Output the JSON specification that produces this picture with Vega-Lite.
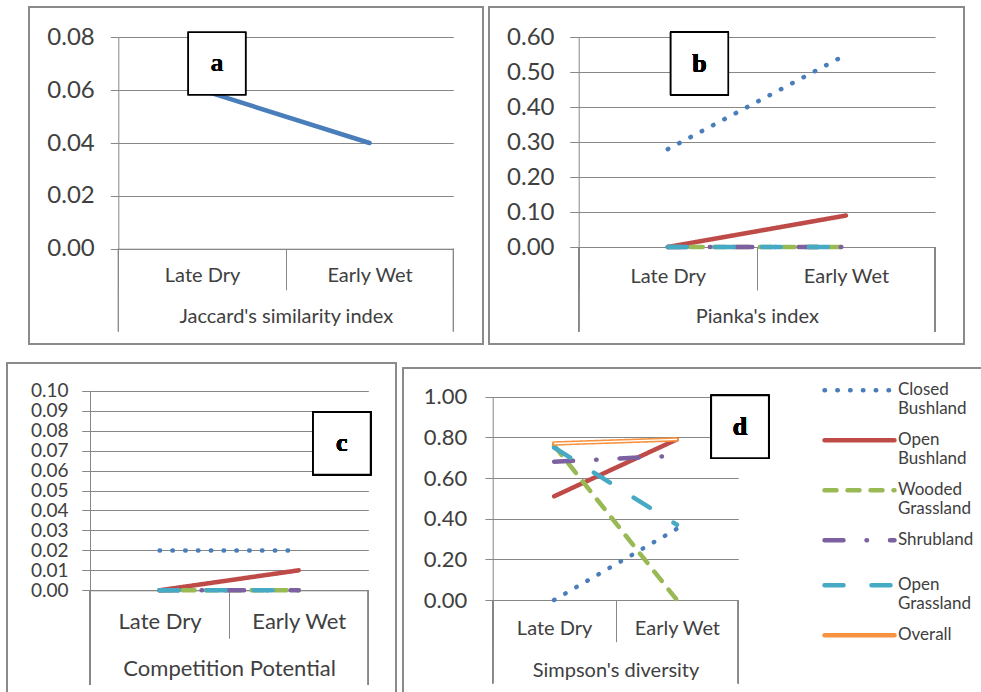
{
  "$schema": "https://vega.github.io/schema/vega-lite/v6.json",
  "background": "white",
  "padding": {"left": 6, "top": 6, "right": 0, "bottom": 0},
  "config": {
    "view": {"stroke": "#8a8a8a", "strokeWidth": 2},
    "font": "Lato",
    "axis": {"labelFont": "Lato", "titleFont": "Lato", "labelColor": "#404040", "titleColor": "#404040", "titleFontWeight": "normal", "domainColor": "#878787", "tickColor": "#878787", "gridColor": "#878787", "domainWidth": 1, "tickWidth": 1, "gridWidth": 1, "labelOverlap": false, "labelLimit": 400, "labelFlush": false}
  },
  "datasets": {
    "jaccard": [
      {"season": "Late Dry", "value": 0.06},
      {"season": "Early Wet", "value": 0.04}
    ],
    "pianka": [
      {"habitat": "Closed Bushland", "season": "Late Dry", "value": 0.28},
      {"habitat": "Closed Bushland", "season": "Early Wet", "value": 0.55},
      {"habitat": "Open Bushland", "season": "Late Dry", "value": 0.0},
      {"habitat": "Open Bushland", "season": "Early Wet", "value": 0.09},
      {"habitat": "Wooded Grassland", "season": "Late Dry", "value": 0.0},
      {"habitat": "Wooded Grassland", "season": "Early Wet", "value": 0.0},
      {"habitat": "Shrubland", "season": "Late Dry", "value": 0.0},
      {"habitat": "Shrubland", "season": "Early Wet", "value": 0.0},
      {"habitat": "Open Grassland", "season": "Late Dry", "value": 0.0},
      {"habitat": "Open Grassland", "season": "Early Wet", "value": 0.0}
    ],
    "competition": [
      {"habitat": "Closed Bushland", "season": "Late Dry", "value": 0.02},
      {"habitat": "Closed Bushland", "season": "Early Wet", "value": 0.02},
      {"habitat": "Open Bushland", "season": "Late Dry", "value": 0.0},
      {"habitat": "Open Bushland", "season": "Early Wet", "value": 0.01},
      {"habitat": "Wooded Grassland", "season": "Late Dry", "value": 0.0},
      {"habitat": "Wooded Grassland", "season": "Early Wet", "value": 0.0},
      {"habitat": "Shrubland", "season": "Late Dry", "value": 0.0},
      {"habitat": "Shrubland", "season": "Early Wet", "value": 0.0},
      {"habitat": "Open Grassland", "season": "Late Dry", "value": 0.0},
      {"habitat": "Open Grassland", "season": "Early Wet", "value": 0.0}
    ],
    "simpson": [
      {"habitat": "Closed Bushland", "season": "Late Dry", "value": 0.0},
      {"habitat": "Closed Bushland", "season": "Early Wet", "value": 0.35},
      {"habitat": "Open Bushland", "season": "Late Dry", "value": 0.51},
      {"habitat": "Open Bushland", "season": "Early Wet", "value": 0.79},
      {"habitat": "Wooded Grassland", "season": "Late Dry", "value": 0.76},
      {"habitat": "Wooded Grassland", "season": "Early Wet", "value": 0.0},
      {"habitat": "Shrubland", "season": "Late Dry", "value": 0.68},
      {"habitat": "Shrubland", "season": "Early Wet", "value": 0.71},
      {"habitat": "Open Grassland", "season": "Late Dry", "value": 0.75},
      {"habitat": "Open Grassland", "season": "Early Wet", "value": 0.37},
      {"habitat": "Overall", "season": "Late Dry", "value": 0.77},
      {"habitat": "Overall", "season": "Early Wet", "value": 0.79}
    ]
  },
  "resolve": {"scale": {"color": "independent", "strokeDash": "independent"}},
  "bounds": "full",
  "spacing": 17,
  "vconcat": [
    {
      "bounds": "flush",
      "spacing": 6,
      "resolve": {"scale": {"color": "independent", "strokeDash": "independent"}},
      "hconcat": [
        {"width": 16, "height": 1, "data": {"values": []}, "mark": "point", "view": {"stroke": null}},
        {
          "width": 454, "height": 337,
          "data": {"name": "jaccard"},
          "layer": [
            {
              "mark": {"type": "line", "color": "#4a7ebb", "strokeWidth": 4.5, "strokeCap": "round"},
              "encoding": {
                "x": {"field": "season", "type": "nominal", "bandPosition": 0.5,
                  "scale": {"type": "band", "domain": ["Late Dry", "Early Wet"], "range": [89.3, 424.3], "paddingInner": 0, "paddingOuter": 0},
                  "axis": {"orient": "bottom", "offset": -95.3, "title": "Jaccard's similarity index", "titleFontSize": 20, "titleY": 68, "titleBaseline": "middle", "labelFontSize": 20, "labelAngle": 0, "labelBaseline": "middle", "labelPadding": -14, "tickSize": 41, "tickBand": "extent", "grid": false}},
                "y": {"field": "value", "type": "quantitative",
                  "scale": {"domain": [0, 0.08], "range": [241.7, 30.3], "nice": false, "zero": false},
                  "axis": {"orient": "left", "offset": -89.3, "values": [0, 0.02, 0.04, 0.06, 0.08], "tickCount": 20, "format": ".2f", "grid": true, "tickSize": 8, "labelPadding": 16, "labelFontSize": 24, "title": null}}
              }
            },
            {
              "mark": {"type": "rule", "color": "#878787", "strokeWidth": 1},
              "encoding": {"x": {"datum": "Late Dry", "type": "nominal", "bandPosition": 0}, "y": {"datum": 0, "type": "quantitative"}, "y2": {"datum": -0.0314}}
            },
            {
              "mark": {"type": "rule", "color": "#878787", "strokeWidth": 1},
              "encoding": {"x": {"datum": "Early Wet", "type": "nominal", "bandPosition": 1}, "y": {"datum": 0, "type": "quantitative"}, "y2": {"datum": -0.0314}}
            },
            {
              "mark": {"type": "point", "shape": "M-0.92,-1H0.92V1H-0.92Z", "size": 3900, "filled": true, "fill": "white", "stroke": "black", "strokeWidth": 1.6, "opacity": 1},
              "encoding": {"x": {"datum": "Late Dry", "type": "nominal", "bandPosition": 0.589}, "y": {"datum": 0.0701, "type": "quantitative"}}
            },
            {
              "mark": {"type": "text", "text": "a", "font": "Liberation Serif", "fontWeight": "bold", "fontSize": 26, "baseline": "middle", "align": "center", "color": "black"},
              "encoding": {"x": {"datum": "Late Dry", "type": "nominal", "bandPosition": 0.589}, "y": {"datum": 0.0701, "type": "quantitative"}}
            }
          ]
        },
        {
          "width": 475, "height": 337,
          "data": {"name": "pianka"},
          "layer": [
            {
              "mark": {"type": "line", "strokeWidth": 4.5, "strokeCap": "round"},
              "encoding": {
                "x": {"field": "season", "type": "nominal", "bandPosition": 0.5,
                  "scale": {"type": "band", "domain": ["Late Dry", "Early Wet"], "range": [89.7, 446], "paddingInner": 0, "paddingOuter": 0},
                  "axis": {"orient": "bottom", "offset": -97, "title": "Pianka's index", "titleFontSize": 20, "titleY": 69.7, "titleBaseline": "middle", "labelFontSize": 20, "labelAngle": 0, "labelBaseline": "middle", "labelPadding": -14, "tickSize": 43, "tickBand": "extent", "grid": false}},
                "y": {"field": "value", "type": "quantitative",
                  "scale": {"domain": [0, 0.6], "range": [240, 30.3], "nice": false, "zero": false},
                  "axis": {"orient": "left", "offset": -89.7, "values": [0, 0.1, 0.2, 0.3, 0.4, 0.5, 0.6], "tickCount": 20, "format": ".2f", "grid": true, "tickSize": 9, "labelPadding": 15.7, "labelFontSize": 24, "title": null}},
                "color": {"field": "habitat", "type": "nominal", "legend": null,
                  "scale": {"domain": ["Closed Bushland", "Open Bushland", "Wooded Grassland", "Shrubland", "Open Grassland", "Overall"], "range": ["#4a7ebb", "#be4b48", "#98b954", "#7d60a0", "#46aac5", "#f69240"]}},
                "strokeDash": {"field": "habitat", "type": "nominal", "legend": null,
                  "scale": {"domain": ["Closed Bushland", "Open Bushland", "Wooded Grassland", "Shrubland", "Open Grassland", "Overall"], "range": [[0.5, 12.3], [1, 0], [12, 11], [19, 23, 0.5, 23], [19, 28], [1, 0]]}}
              }
            },
            {
              "mark": {"type": "rule", "color": "#878787", "strokeWidth": 1},
              "encoding": {"x": {"datum": "Late Dry", "type": "nominal", "bandPosition": 0}, "y": {"datum": 0, "type": "quantitative"}, "y2": {"datum": -0.2423}}
            },
            {
              "mark": {"type": "rule", "color": "#878787", "strokeWidth": 1},
              "encoding": {"x": {"datum": "Early Wet", "type": "nominal", "bandPosition": 1}, "y": {"datum": 0, "type": "quantitative"}, "y2": {"datum": -0.2423}}
            },
            {
              "mark": {"type": "point", "shape": "M-0.92,-1H0.92V1H-0.92Z", "size": 3900, "filled": true, "fill": "white", "stroke": "black", "strokeWidth": 1.6, "opacity": 1},
              "encoding": {"x": {"datum": "Late Dry", "type": "nominal", "bandPosition": 0.678}, "y": {"datum": 0.525, "type": "quantitative"}}
            },
            {
              "mark": {"type": "text", "text": "b", "font": "Liberation Serif", "fontWeight": "bold", "fontSize": 26, "baseline": "middle", "align": "center", "color": "black"},
              "encoding": {"x": {"datum": "Late Dry", "type": "nominal", "bandPosition": 0.678}, "y": {"datum": 0.525, "type": "quantitative"}}
            }
          ]
        }
      ]
    },
    {
      "bounds": "flush",
      "spacing": 7,
      "resolve": {"scale": {"color": "independent", "strokeDash": "independent"}},
      "hconcat": [
        {
          "width": 389, "height": 340,
          "data": {"name": "competition"},
          "layer": [
            {
              "mark": {"type": "line", "strokeWidth": 4.5, "strokeCap": "round"},
              "encoding": {
                "x": {"field": "season", "type": "nominal", "bandPosition": 0.5,
                  "scale": {"type": "band", "domain": ["Late Dry", "Early Wet"], "range": [83, 361.3], "paddingInner": 0, "paddingOuter": 0},
                  "axis": {"orient": "bottom", "offset": -112.7, "title": "Competition Potential", "titleFontSize": 22, "titleY": 77.7, "titleBaseline": "middle", "labelFontSize": 22, "labelAngle": 0, "labelBaseline": "middle", "labelPadding": -16.6, "tickSize": 48, "tickBand": "extent", "grid": false}},
                "y": {"field": "value", "type": "quantitative",
                  "scale": {"domain": [0, 0.1], "range": [227.3, 27.7], "nice": false, "zero": false},
                  "axis": {"orient": "left", "offset": -83, "values": [0, 0.01, 0.02, 0.03, 0.04, 0.05, 0.06, 0.07, 0.08, 0.09, 0.1], "tickCount": 20, "format": ".2f", "grid": true, "tickSize": 8.3, "labelPadding": 13.7, "labelFontSize": 19, "title": null}},
                "color": {"field": "habitat", "type": "nominal", "legend": null,
                  "scale": {"domain": ["Closed Bushland", "Open Bushland", "Wooded Grassland", "Shrubland", "Open Grassland", "Overall"], "range": ["#4a7ebb", "#be4b48", "#98b954", "#7d60a0", "#46aac5", "#f69240"]}},
                "strokeDash": {"field": "habitat", "type": "nominal", "legend": null,
                  "scale": {"domain": ["Closed Bushland", "Open Bushland", "Wooded Grassland", "Shrubland", "Open Grassland", "Overall"], "range": [[0.5, 12.3], [1, 0], [12, 11], [19, 23, 0.5, 23], [19, 28], [1, 0]]}}
              }
            },
            {
              "mark": {"type": "rule", "color": "#878787", "strokeWidth": 1},
              "encoding": {"x": {"datum": "Late Dry", "type": "nominal", "bandPosition": 0}, "y": {"datum": 0, "type": "quantitative"}, "y2": {"datum": -0.0474}}
            },
            {
              "mark": {"type": "rule", "color": "#878787", "strokeWidth": 1},
              "encoding": {"x": {"datum": "Early Wet", "type": "nominal", "bandPosition": 1}, "y": {"datum": 0, "type": "quantitative"}, "y2": {"datum": -0.0474}}
            },
            {
              "mark": {"type": "point", "shape": "M-0.92,-1H0.92V1H-0.92Z", "size": 3900, "filled": true, "fill": "white", "stroke": "black", "strokeWidth": 1.6, "opacity": 1},
              "encoding": {"x": {"datum": "Early Wet", "type": "nominal", "bandPosition": 0.81}, "y": {"datum": 0.0736, "type": "quantitative"}}
            },
            {
              "mark": {"type": "text", "text": "c", "font": "Liberation Serif", "fontWeight": "bold", "fontSize": 26, "baseline": "middle", "align": "center", "color": "black"},
              "encoding": {"x": {"datum": "Early Wet", "type": "nominal", "bandPosition": 0.81}, "y": {"datum": 0.0736, "type": "quantitative"}}
            }
          ]
        },
        {
          "bounds": "flush",
          "spacing": 4,
          "resolve": {"scale": {"color": "independent", "strokeDash": "independent"}},
          "vconcat": [
            {"width": 1, "height": 1, "data": {"values": []}, "mark": "point", "view": {"stroke": null}},
            {
              "width": 590, "height": 340,
              "data": {"name": "simpson"},
              "layer": [
                {
                  "mark": {"type": "line", "strokeWidth": 4.5, "strokeCap": "round"},
                  "encoding": {
                    "x": {"field": "season", "type": "nominal", "bandPosition": 0.5,
                      "scale": {"type": "band", "domain": ["Late Dry", "Early Wet"], "range": [89.7, 335.3], "paddingInner": 0, "paddingOuter": 0},
                      "axis": {"orient": "bottom", "offset": -108, "title": "Simpson's diversity", "titleFontSize": 20, "titleY": 70, "titleBaseline": "middle", "labelFontSize": 20, "labelAngle": 0, "labelBaseline": "middle", "labelPadding": -13.4, "tickSize": 41.7, "tickBand": "extent", "grid": false}},
                    "y": {"field": "value", "type": "quantitative",
                      "scale": {"domain": [0, 1], "range": [232, 28.7], "nice": false, "zero": false},
                      "axis": {"orient": "left", "offset": -89.7, "values": [0, 0.2, 0.4, 0.6, 0.8, 1], "tickCount": 20, "format": ".2f", "grid": true, "tickSize": 7.7, "labelPadding": 18.3, "labelFontSize": 22, "title": null}},
                    "color": {"field": "habitat", "type": "nominal",
                      "scale": {"domain": ["Closed Bushland", "Open Bushland", "Wooded Grassland", "Shrubland", "Open Grassland", "Overall"], "range": ["#4a7ebb", "#be4b48", "#98b954", "#7d60a0", "#46aac5", "#f69240"]},
                      "legend": {"orient": "none", "legendX": 419, "legendY": -0.3, "title": null, "padding": 0, "symbolType": "stroke", "symbolSize": 4900, "symbolStrokeWidth": 4.5, "labelFont": "Lato", "labelFontSize": 17, "labelColor": "#404040", "labelBaseline": "middle", "labelOffset": 1, "labelLimit": 300, "rowPadding": 0, "clipHeight": 45, "labelExpr": "split(datum.label, ' ')", "encode": {"symbols": {"update": {"strokeCap": {"value": "round"}}}}}},
                    "strokeDash": {"field": "habitat", "type": "nominal",
                      "scale": {"domain": ["Closed Bushland", "Open Bushland", "Wooded Grassland", "Shrubland", "Open Grassland", "Overall"], "range": [[0.5, 12.3], [1, 0], [12, 11], [19, 23, 0.5, 23], [19, 28], [1, 0]]},
                      "legend": {"orient": "none", "legendX": 419, "legendY": -0.3, "title": null, "padding": 0, "symbolType": "stroke", "symbolSize": 4900, "symbolStrokeWidth": 4.5, "labelFont": "Lato", "labelFontSize": 17, "labelColor": "#404040", "labelBaseline": "middle", "labelOffset": 1, "labelLimit": 300, "rowPadding": 0, "clipHeight": 45, "labelExpr": "split(datum.label, ' ')", "encode": {"symbols": {"update": {"strokeCap": {"value": "round"}}}}}}
                  }
                },
                {
                  "transform": [{"filter": "datum.habitat == 'Overall'"}],
                  "mark": {"type": "line", "color": "white", "strokeWidth": 1.4},
                  "encoding": {
                    "x": {"field": "season", "type": "nominal", "bandPosition": 0.5},
                    "y": {"field": "value", "type": "quantitative"}
                  }
                },
                {
                  "mark": {"type": "rule", "color": "#878787", "strokeWidth": 1},
                  "encoding": {"x": {"datum": "Late Dry", "type": "nominal", "bandPosition": 0}, "y": {"datum": 0, "type": "quantitative"}, "y2": {"datum": -0.4097}}
                },
                {
                  "mark": {"type": "rule", "color": "#878787", "strokeWidth": 1},
                  "encoding": {"x": {"datum": "Early Wet", "type": "nominal", "bandPosition": 1}, "y": {"datum": 0, "type": "quantitative"}, "y2": {"datum": -0.4097}}
                },
                {
                  "mark": {"type": "point", "shape": "M-0.92,-1H0.92V1H-0.92Z", "size": 3900, "filled": true, "fill": "white", "stroke": "black", "strokeWidth": 1.6, "opacity": 1},
                  "encoding": {"x": {"datum": "Early Wet", "type": "nominal", "bandPosition": 1.014}, "y": {"datum": 0.852, "type": "quantitative"}}
                },
                {
                  "mark": {"type": "text", "text": "d", "font": "Liberation Serif", "fontWeight": "bold", "fontSize": 26, "baseline": "middle", "align": "center", "color": "black"},
                  "encoding": {"x": {"datum": "Early Wet", "type": "nominal", "bandPosition": 1.014}, "y": {"datum": 0.852, "type": "quantitative"}}
                }
              ]
            }
          ]
        }
      ]
    }
  ]
}
